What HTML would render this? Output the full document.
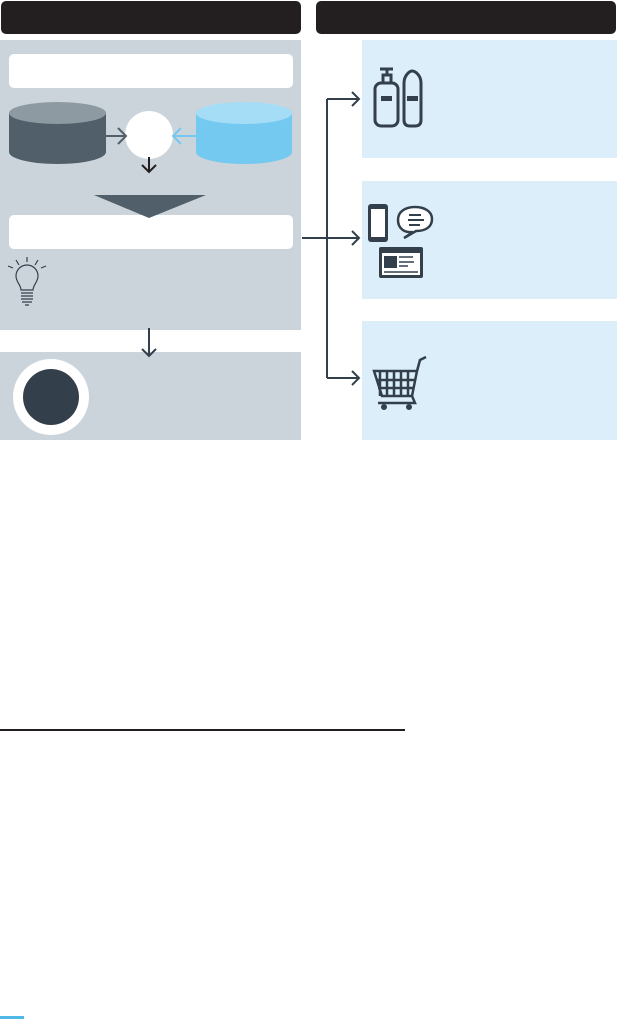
<!DOCTYPE html>
<html><head><style>
html,body{margin:0;padding:0;background:#fff;width:617px;height:1019px;overflow:hidden}
</style></head><body>
<svg width="617" height="1019" viewBox="0 0 617 1019" xmlns="http://www.w3.org/2000/svg">
<rect x="1" y="1" width="300" height="33" rx="5" fill="#231f20"/>
<rect x="316" y="1" width="300" height="33" rx="5" fill="#231f20"/>
<rect x="0" y="40" width="301" height="290" fill="#ccd4db"/>
<rect x="0" y="352" width="301" height="88" fill="#ccd4db"/>
<rect x="9" y="54" width="284" height="34" rx="5" fill="#fff"/>
<rect x="9" y="215" width="284" height="34" rx="5" fill="#fff"/>
<path d="M9 113 V152 A48.5 12 0 0 0 106 152 V113 Z" fill="#505f6a"/>
<ellipse cx="57.5" cy="113" rx="48.5" ry="11" fill="#8e9aa2"/>
<path d="M196 113 V152 A48 12 0 0 0 292 152 V113 Z" fill="#74c9f0"/>
<ellipse cx="244" cy="113" rx="48" ry="11" fill="#a6ddf6"/>
<circle cx="149" cy="135" r="24" fill="#fff"/>
<g fill="none" stroke-width="2">
<path d="M106 136 H126 M118 128 L126 136 L118 144" stroke="#505f6a"/>
<path d="M196 136 H173 M181 128 L173 136 L181 144" stroke="#74c9f0"/>
<path d="M149 157 V172 M142 165 L149 172 L156 165" stroke="#231f20"/>
<path d="M149 328 V356 M142 349 L149 356 L156 349" stroke="#333f4b"/>
</g>
<polygon points="94,195 206,195 149,218" fill="#505f6a"/>
<g fill="none" stroke="#333f4b" stroke-width="1.2">
<path d="M21 290 C21 285 16 282 16 276 A11 11 0 0 1 38 276 C38 282 33 285 33 290 Z"/>
<path d="M21 293 H33 M21 296 H33 M21 299 H33 M22 302 H32 M25 305 H29"/>
<path d="M27 257 V262 M16 260 L19 265 M38 260 L35 265 M8 266 L13 268 M46 266 L41 268"/>
</g>
<circle cx="51" cy="397" r="38" fill="#fff"/>
<circle cx="51" cy="397" r="28" fill="#333f4b"/>
<rect x="362" y="40" width="255" height="118" fill="#dbeefa"/>
<rect x="362" y="181" width="255" height="118" fill="#dbeefa"/>
<rect x="362" y="321" width="255" height="119" fill="#dbeefa"/>
<g fill="none" stroke="#333f4b" stroke-width="2">
<path d="M302 238 H327 M327 99 V378 M327 99 H359 M327 238 H359 M327 378 H359"/>
<path d="M352 92 L359 99 L352 106 M352 231 L359 238 L352 245 M352 371 L359 378 L352 385"/>
</g>
<g fill="none" stroke="#333f4b" stroke-width="3">
<rect x="375" y="83" width="23" height="43" rx="6"/>
<path d="M383 83 V75 H391 V83 M387 75 V69 H380 M387 69 H393"/>
<path d="M404 83 C404 75 410 71 412 71 C415 71 421 75 421 83 V120 Q421 126 415 126 H410 Q404 126 404 120 Z"/>
</g>
<rect x="381" y="96" width="11" height="5" fill="#333f4b"/>
<rect x="407" y="96" width="11" height="5" fill="#333f4b"/>
<rect x="368" y="204" width="20" height="38" rx="3" fill="#333f4b"/>
<rect x="371" y="209" width="14" height="28" fill="#fff"/>
<path d="M413 232 C405 233 398 229 398 220 C398 211 406 207 415 207 C424 207 432 211 432 219 C432 228 424 231 416 231 L404 238 Z" fill="#fff" stroke="#333f4b" stroke-width="2.5"/>
<path d="M409 215 H421 M408 220 H424 M409 225 H420" stroke="#333f4b" stroke-width="2"/>
<rect x="379" y="247" width="44" height="31" rx="2" fill="#333f4b"/>
<rect x="382" y="253" width="38" height="22" fill="#fff"/>
<rect x="384" y="256" width="13" height="12" fill="#333f4b"/>
<path d="M399 257 H413 M399 262 H414 M399 266 H408 M384 272 H418" stroke="#333f4b" stroke-width="1.5"/>
<g fill="none" stroke="#333f4b" stroke-width="2.5">
<path d="M374 371 H417 L412 396 H382 Z"/>
<path d="M380 371 V396 M387 371 V396 M394 371 V396 M401 371 V396 M408 371 V396 M376 380 H416 M378 388 H414"/>
<path d="M417 371 L420 360 L426 357 M412 396 L415 403 H378"/>
</g>
<circle cx="384" cy="407" r="3" fill="#333f4b"/>
<circle cx="409" cy="407" r="3" fill="#333f4b"/>
<rect x="0" y="729" width="405" height="2" fill="#231f20"/>
<rect x="0" y="1016" width="24" height="3" fill="#4fb8e6"/>
</svg>
</body></html>
